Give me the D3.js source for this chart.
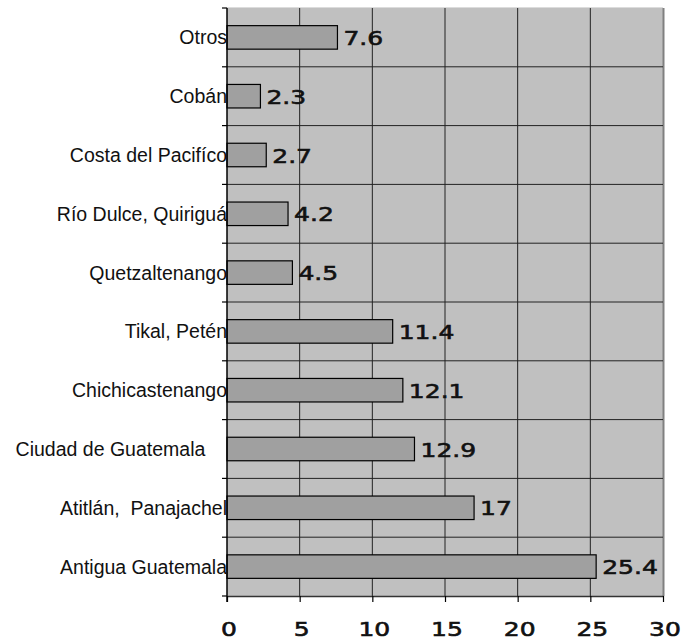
<!DOCTYPE html>
<html>
<head>
<meta charset="utf-8">
<script src="https://cdn.jsdelivr.net/npm/d3@7"></script>
<style>
  html, body { margin: 0; background: #fff; overflow: hidden; }
  svg { display: block; }
</style>
</head>
<body>
<div id="chart-area"></div>
<script>
// categories from top to bottom, as in the picture
var categories = ['Otros', 'Cobán', 'Costa del Pacifíco', 'Río Dulce, Quiriguá', 'Quetzaltenango',
    'Tikal, Petén', 'Chichicastenango', 'Ciudad de Guatemala    ', 'Atitlán,  Panajachel', 'Antigua Guatemala'];
var values = [7.6, 2.3, 2.7, 4.2, 4.5, 11.4, 12.1, 12.9, 17, 25.4];
var xTicks = [0, 5, 10, 15, 20, 25, 30];

var margin = { top: 8, right: 22, bottom: 46, left: 227 };
var width = 685 - margin.left - margin.right;
var height = 642 - margin.top - margin.bottom;

var svg = d3.select('#chart-area')
    .append('svg')
        .attr('width', 685)
        .attr('height', 642);

var g = svg.append('g')
    .attr('transform', 'translate(' + margin.left + ',' + margin.top + ')');

var x = d3.scaleLinear()
    .domain([0, 30])
    .range([0, width]);

var y = d3.scaleBand()
    .domain(categories)
    .range([0, height])
    .paddingInner(0.6)
    .paddingOuter(0.3);

var step = y.step();

// plot background
g.append('rect')
    .attr('width', width)
    .attr('height', height)
    .attr('fill', '#c0c0c0');

// frame (light top, gray right)
g.append('line')
    .attr('x1', 0).attr('x2', width).attr('y1', -0.5).attr('y2', -0.5)
    .attr('stroke', '#dcdcdc');
g.append('line')
    .attr('x1', width + 0.5).attr('x2', width + 0.5).attr('y1', 0).attr('y2', height)
    .attr('stroke', '#808080').attr('stroke-width', 2);

// vertical gridlines
g.selectAll('.vgrid').data(xTicks.filter((d) => d > 0 && d < 30))
    .enter().append('line')
    .attr('class', 'vgrid')
    .attr('x1', (d) => x(d)).attr('x2', (d) => x(d))
    .attr('y1', 0).attr('y2', height)
    .attr('stroke', '#222').attr('stroke-width', 1);

// horizontal lines between categories
var bounds = d3.range(1, categories.length).map((i) => i * step);
g.selectAll('.hgrid').data(bounds)
    .enter().append('line')
    .attr('class', 'hgrid')
    .attr('x1', 0).attr('x2', width)
    .attr('y1', (d) => d).attr('y2', (d) => d)
    .attr('stroke', '#222').attr('stroke-width', 1);

// bars
g.selectAll('.bar').data(values)
    .enter().append('rect')
    .attr('class', 'bar')
    .attr('x', 0)
    .attr('y', (d, i) => y(categories[i]))
    .attr('width', (d) => x(d))
    .attr('height', y.bandwidth())
    .attr('fill', '#a0a0a0')
    .attr('stroke', '#000')
    .attr('stroke-width', 1.2);

// value labels
g.selectAll('.val').data(values)
    .enter().append('text')
    .attr('class', 'val')
    .attr('transform', (d, i) => 'translate(' + (x(d) + 6) + ',' + (y(categories[i]) + y.bandwidth() / 2 + 7.5) + ') scale(1.25,1)')
    .attr('font-family', 'DejaVu Sans')
    .attr('font-size', '20px')
    .attr('fill', '#111')
    .attr('stroke', '#111')
    .attr('stroke-width', 0.6)
    .text((d) => d);

// left axis line and ticks
g.append('line')
    .attr('x1', 0).attr('x2', 0).attr('y1', 0).attr('y2', height + 6)
    .attr('stroke', '#000').attr('stroke-width', 1.5);
g.selectAll('.ytick').data(d3.range(0, categories.length + 1).map((i) => i * step))
    .enter().append('line')
    .attr('class', 'ytick')
    .attr('x1', -5).attr('x2', 0)
    .attr('y1', (d) => d).attr('y2', (d) => d)
    .attr('stroke', '#000').attr('stroke-width', 1.2);

// bottom axis
var xAxisCall = d3.axisBottom(x)
    .tickValues(xTicks)
    .tickSize(6)
    .tickSizeOuter(0)
    .tickFormat((d) => '');
var xAxis = g.append('g')
    .attr('class', 'bottom axis')
    .attr('transform', 'translate(0,' + height + ')')
    .call(xAxisCall);
xAxis.select('.domain').attr('stroke', '#333').attr('stroke-width', 1.5);
xAxis.selectAll('.tick line').attr('stroke', '#000').attr('stroke-width', 1.2);

g.selectAll('.xlab').data(xTicks)
    .enter().append('text')
    .attr('class', 'xlab')
    .attr('transform', (d) => 'translate(' + (x(d) + 2) + ',' + (height + 40) + ') scale(1.25,1)')
    .attr('text-anchor', 'middle')
    .attr('font-family', 'DejaVu Sans')
    .attr('font-size', '20px')
    .attr('fill', '#111')
    .attr('stroke', '#111')
    .attr('stroke-width', 0.6)
    .text((d) => d);

// category labels
g.selectAll('.cat').data(categories)
    .enter().append('text')
    .attr('class', 'cat')
    .attr('x', 0)
    .attr('y', (d) => y(d) + y.bandwidth() / 2 + 7)
    .attr('text-anchor', 'end')
    .attr('font-family', 'Liberation Sans, Arial, sans-serif')
    .attr('font-size', '19.5px')
    .attr('fill', '#111')
    .style('white-space', 'pre')
    .text((d) => d);
</script>
</body>
</html>
